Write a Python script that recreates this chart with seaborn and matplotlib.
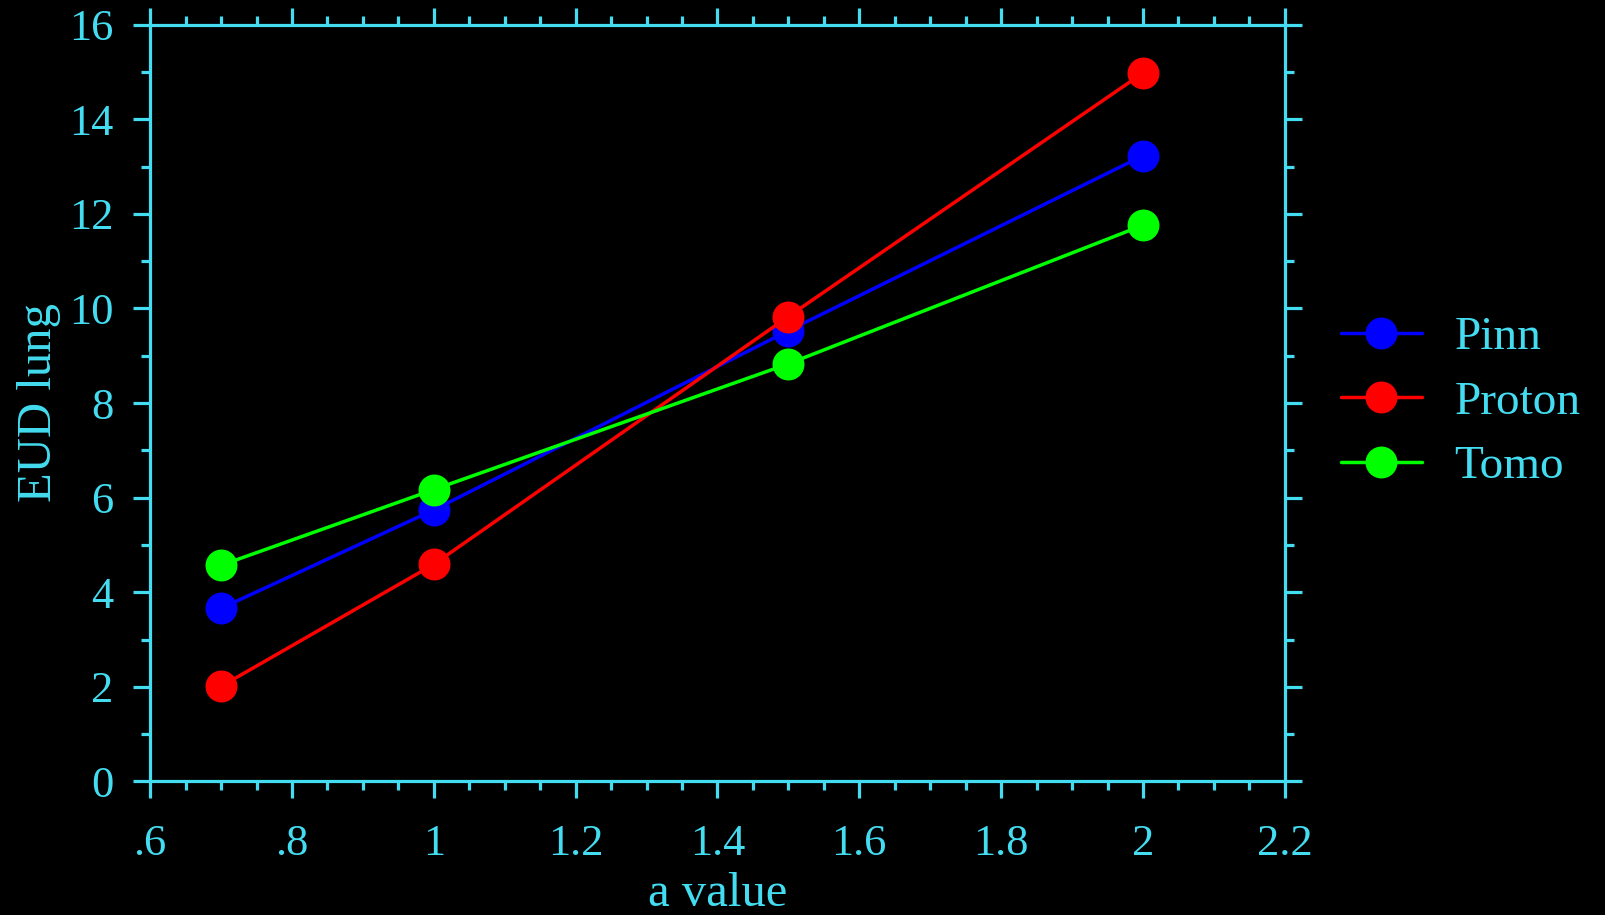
import pandas as pd
import seaborn as sns
import matplotlib.pyplot as plt
from matplotlib.ticker import MultipleLocator

# -----------------------------
# Data
# -----------------------------
a_values = [0.7, 1.0, 1.5, 2.0]
pinn = [3.66, 5.74, 9.53, 13.23]
proton = [2.01, 4.59, 9.83, 14.98]
tomo = [4.57, 6.17, 8.83, 11.76]
series_names = ['Pinn', 'Proton', 'Tomo']
xtick_values = [0.6, 0.8, 1.0, 1.2, 1.4, 1.6, 1.8, 2.0, 2.2]
xtick_labels = ['.6', '.8', '1', '1.2', '1.4', '1.6', '1.8', '2', '2.2']
ytick_values = [0, 2, 4, 6, 8, 10, 12, 14, 16]

df = pd.DataFrame({
    'a value': a_values * 3,
    'EUD lung': pinn + proton + tomo,
    'plan': [n for n in series_names for _ in a_values],
})

# -----------------------------
# Style
# -----------------------------
fg = '#44dcf0'
sns.set_style('dark')
plt.rcParams['font.family'] = ['Liberation Serif', 'DejaVu Serif']
plt.rcParams['font.size'] = 32

fig = plt.figure(figsize=(16.06, 9.15), dpi=100, facecolor='black')
ax = fig.add_axes([0.0935, 0.146, 0.7065, 0.827])
ax.set_facecolor('black')

palette = {'Pinn': '#0000ff', 'Proton': '#ff0000', 'Tomo': '#00ff00'}
sns.lineplot(
    data=df, x='a value', y='EUD lung', hue='plan', palette=palette,
    marker='o', markersize=23, markeredgewidth=0, linewidth=2.5, ax=ax
)

# -----------------------------
# Axes
# -----------------------------
ax.set_xlim(0.6, 2.2)
ax.set_ylim(0, 16)
ax.set_xticks(xtick_values)
ax.set_xticklabels(xtick_labels)
ax.set_yticks(ytick_values)
ax.xaxis.set_minor_locator(MultipleLocator(0.05))
ax.yaxis.set_minor_locator(MultipleLocator(1))
ax.grid(False)

for s in ax.spines.values():
    s.set_visible(True)
    s.set_color(fg)
    s.set_linewidth(2.3)

ax.tick_params(which='both', direction='out', color=fg, width=2.3,
               top=True, right=True, bottom=True, left=True,
               labelcolor=fg, labelsize=32)
ax.tick_params(which='major', length=12.5)
ax.tick_params(which='minor', length=6.5)
ax.tick_params(axis='x', which='major', pad=18)
ax.tick_params(axis='y', which='major', pad=14)

ax.set_xlabel('a value', color=fg, fontsize=35, labelpad=6)
ax.set_ylabel('EUD lung', color=fg, fontsize=35, labelpad=6)

# -----------------------------
# Legend
# -----------------------------
handles, labels = ax.get_legend_handles_labels()
ax.legend(handles, labels, loc='upper left', bbox_to_anchor=(0.8205, 0.68),
          bbox_transform=fig.transFigure, frameon=False, fontsize=34,
          handlelength=1.7, handletextpad=0.7, labelspacing=0.45,
          borderpad=0, labelcolor=fg)

plt.savefig('out.png', dpi=100, facecolor='black')
